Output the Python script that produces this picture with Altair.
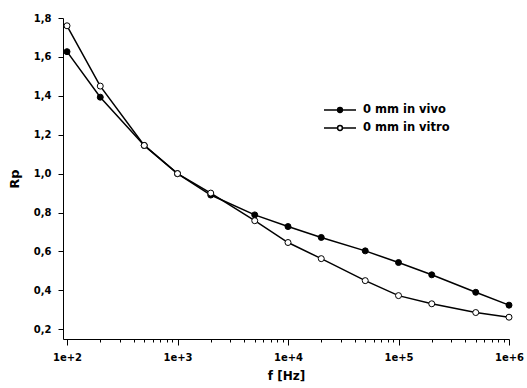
import altair as alt
import pandas as pd

freqs = [100, 200, 500, 1000, 2000, 5000, 10000, 20000, 50000, 100000, 200000, 500000, 1000000]
vivo = [1.627, 1.393, 1.145, 1.0, 0.89, 0.788, 0.728, 0.672, 0.603, 0.543, 0.48, 0.39, 0.324]
vitro = [1.76, 1.45, 1.145, 1.0, 0.9, 0.758, 0.646, 0.563, 0.45, 0.373, 0.331, 0.286, 0.262]
series = ["0 mm in vivo", "0 mm in vitro"]
y_ticks = [0.2, 0.4, 0.6, 0.8, 1.0, 1.2, 1.4, 1.6, 1.8]
x_ticks = [m * 10 ** e for e in range(2, 6) for m in range(1, 10)] + [1000000]

rows = []
for f, a, b in zip(freqs, vivo, vitro):
    rows.append({"f": f, "Rp": a, "series": series[0]})
    rows.append({"f": f, "Rp": b, "series": series[1]})
df = pd.DataFrame(rows)

font = "DejaVu Sans"
is_major = "abs(log(datum.value)/LN10 - round(log(datum.value)/LN10)) < 0.000001"

x_enc = alt.X(
    "f:Q",
    scale=alt.Scale(type="log", domain=[92, 1000000], nice=False),
    axis=alt.Axis(
        title="f [Hz]",
        values=x_ticks,
        labelExpr=f"({is_major}) ? '1e+' + round(log(datum.value)/LN10) : ''",
        tickSize={"condition": {"test": is_major, "value": 6}, "value": 3},
        grid=False,
        domainColor="black",
        tickColor="black",
        labelColor="black",
        labelFont=font,
        labelFontSize=10,
        labelFontWeight="bold",
        labelPadding=7,
        labelFlush=False,
        labelOverlap=False,
        titleFont=font,
        titleFontSize=12,
        titleFontWeight="bold",
        titleColor="black",
        titlePadding=8,
    ),
)
y_enc = alt.Y(
    "Rp:Q",
    scale=alt.Scale(domain=[0.15, 1.8], nice=False, zero=False),
    axis=alt.Axis(
        title="Rp",
        values=y_ticks,
        labelExpr="replace(format(datum.value, '.1f'), '.', ',')",
        tickSize=5,
        grid=False,
        domainColor="black",
        tickColor="black",
        labelColor="black",
        labelFont=font,
        labelFontSize=10,
        labelFontWeight="bold",
        labelPadding=7,
        labelFlush=False,
        titleFont=font,
        titleFontSize=13,
        titleFontWeight="bold",
        titleColor="black",
        titlePadding=12,
    ),
)

legend_path = "M-2,0H-0.3 M0.3,0H2 M0.3,0 A0.3,0.3 0 1,0 -0.3,0 A0.3,0.3 0 1,0 0.3,0 Z"

lines = alt.Chart(df).mark_line(color="black", strokeWidth=1.5).encode(
    x=x_enc, y=y_enc, detail="series:N"
)
points = alt.Chart(df).mark_point(
    filled=True, shape="circle", stroke="black", strokeWidth=1, size=36, opacity=1
).encode(
    x=x_enc,
    y=y_enc,
    fill=alt.Fill(
        "series:N",
        scale=alt.Scale(domain=series, range=["black", "white"]),
        legend=alt.Legend(
            title=None,
            orient="none",
            legendX=268,
            legendY=83,
            symbolType=legend_path,
            symbolSize=256,
            symbolStrokeColor="black",
            symbolStrokeWidth=1.5,
            labelFont=font,
            labelFontSize=11.5,
            labelFontWeight="bold",
            labelColor="black",
            rowPadding=3,
            labelOffset=14,
        ),
    ),
)

chart = (
    alt.layer(lines, points)
    .properties(
        width=446,
        height=321,
        autosize=alt.AutoSizeParams(type="none"),
        padding={"left": 63, "top": 18, "right": 18, "bottom": 49},
        background="white",
    )
    .configure_view(stroke=None)
)

chart.save("out.html", embed_options={"renderer": "svg", "actions": False})
